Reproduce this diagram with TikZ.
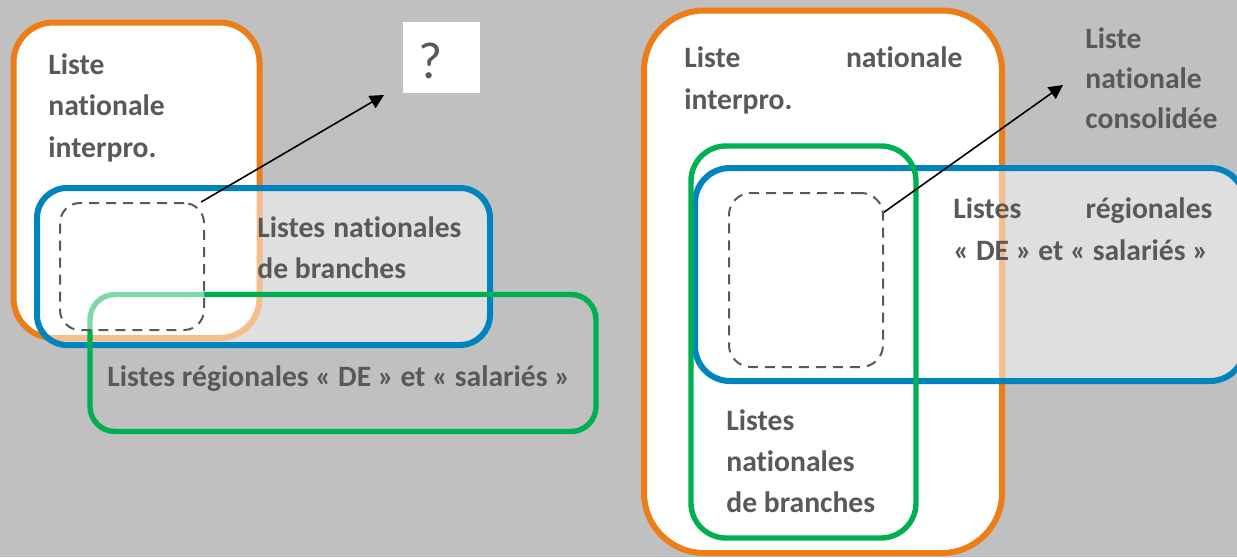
\documentclass[tikz,border=0pt]{standalone}
\usepackage{fontspec}
\setmainfont{Carlito}[Ligatures=NoCommon]
\usetikzlibrary{arrows.meta}

\definecolor{bggray}{RGB}{192,192,192}
\definecolor{boxorange}{RGB}{237,125,22}
\definecolor{boxblue}{RGB}{0,132,189}
\definecolor{boxgreen}{RGB}{0,176,80}
\definecolor{txtgray}{RGB}{89,89,89}

\begin{document}
\begin{tikzpicture}[x=0.5pt,y=-0.5pt,
  frame/.style={draw,rounded corners=#1,inner sep=0pt,line width=3pt},
  orangebox/.style={frame=#1,draw=boxorange,fill=white},
  bluebox/.style={frame=#1,draw=boxblue,fill=white,fill opacity=0.5,draw opacity=1},
  greenbox/.style={frame=#1,draw=boxgreen,line width=2.7pt},
  dashbox/.style={draw=txtgray,rounded corners=#1,inner sep=0pt,line width=1pt,
    dash pattern=on 5pt off 3.5pt,fill=white,fill opacity=0.5,draw opacity=1},
  lbl/.style={font=\fontsize{14.8}{20.75}\selectfont\bfseries,text=txtgray,
    inner sep=0pt,anchor=base west,align=flush left},
  arrowline/.style={line width=0.8pt,-{Triangle[length=7pt,width=7pt]}}]

\useasboundingbox (0,0) rectangle (1237,557);
\clip (0,0) rectangle (1237,557);
\fill[bggray] (0,0) rectangle (1237,557);

% left diagram
\path (136.5,180.25) node[orangebox=20pt,minimum width=123pt,minimum height=157.75pt] (natL) {};
\path (263.5,266.5) node[bluebox=15pt,minimum width=226.5pt,minimum height=78.5pt] (branchL) {};
\path (343,363) node[greenbox=12.5pt,minimum width=253pt,minimum height=68.5pt] (regL) {};
\path (132,266.5) node[dashbox=10pt,minimum width=72pt,minimum height=63.5pt] (dashL) {};
\path (441.5,57.5) node[fill=white,inner sep=0pt,minimum width=38.5pt,minimum height=35.5pt] (qbox) {};
\path (431,61) node[font=\fontsize{26}{30}\selectfont,text=txtgray,inner sep=0pt] (qmark) {?};

\path (48,74) node[lbl,text width=75pt] (txtnatL) {Liste\\nationale\\interpro.};
\path (257,237) node[lbl,text width=102pt] (txtbranchL) {Listes\hfill nationales\\de branches};
\path (107,386) node[lbl] (txtregL) {Listes régionales «~DE~» et «~salariés~»};

\coordinate (tipL) at (384,95);
\path[arrowline] (dashL.43) edge (tipL);

% right diagram
\path (823,281.75) node[orangebox=30pt,minimum width=179pt,minimum height=271.25pt] (natR) {};
\path (970,274.5) node[bluebox=17.5pt,minimum width=275pt,minimum height=106.5pt] (regR) {};
\path (803.5,342) node[greenbox=17.5pt,minimum width=112.5pt,minimum height=196pt] (branchR) {};
\path (806,280) node[dashbox=11pt,minimum width=77pt,minimum height=87pt] (dashR) {};

\path (684,68) node[lbl,text width=139pt] (txtnatR) {Liste\hfill nationale\\interpro.};
\path (1085,48) node[lbl,text width=75pt,font=\fontsize{14.8}{20}\selectfont\bfseries] (txtcons) {Liste\\nationale\\consolidée};
\path (953,218) node[lbl,text width=129.5pt,font=\fontsize{14.8}{21}\selectfont\bfseries] (txtregR) {Listes\hfill régionales\\«~DE~» et «~salariés~»};
\path (726,430) node[lbl,text width=85pt,font=\fontsize{14.8}{20.5}\selectfont\bfseries] (txtbranchR) {Listes\\nationales\\de branches};

\coordinate (tipR) at (1063,85);
\path[arrowline] (dashR.41) edge (tipR);

\end{tikzpicture}
\end{document}
